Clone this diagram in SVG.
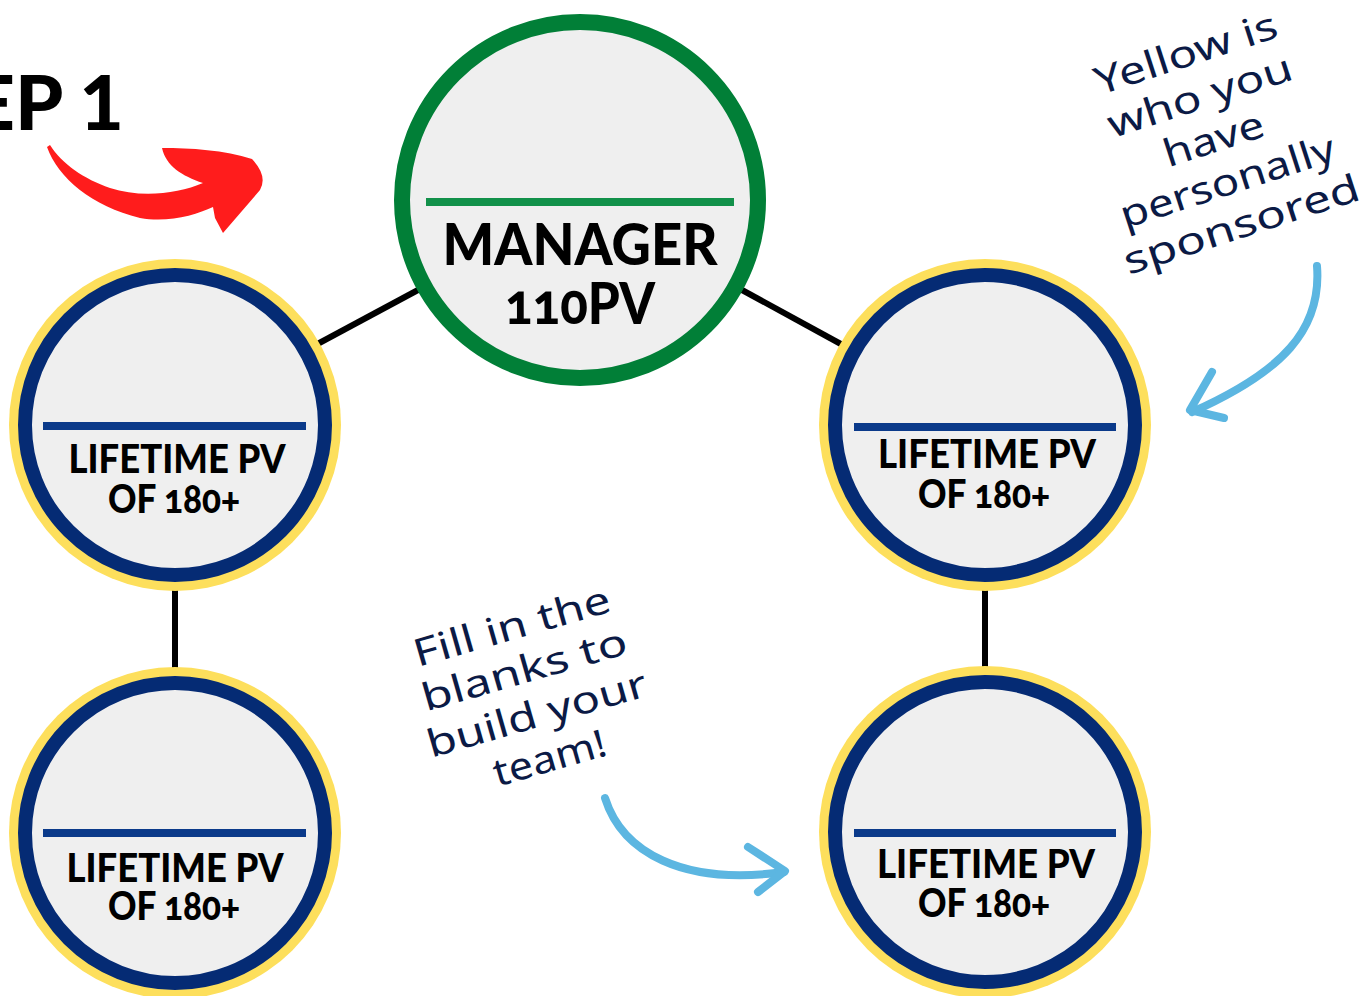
<svg xmlns="http://www.w3.org/2000/svg" width="1370" height="996" viewBox="0 0 1370 996">
<style>
.ring-y{fill:#fddf5c;}
.ring-b{fill:#efefef;stroke:#052b74;stroke-width:14;}
.bar-b{stroke:#0b3a8a;stroke-width:8;}
.lbl{font-family:Lato,"Open Sans","Liberation Sans",sans-serif;font-weight:900;fill:#000;text-anchor:middle;font-variant-numeric:oldstyle-nums;}
.conn{stroke:#000;stroke-width:6;fill:none;}
.hand{font-family:"Noto Sans","DejaVu Sans",sans-serif;font-weight:400;font-size:38px;fill:#0b1a45;text-anchor:middle;}
.blue-arrow{stroke:#5cb6e1;stroke-width:8;fill:none;stroke-linecap:round;stroke-linejoin:round;}
</style>
<rect width="1370" height="996" fill="#fff"/>

<g id="connectors">
<line class="conn" x1="310" y1="348" x2="418" y2="290"/>
<line class="conn" x1="742" y1="290" x2="850" y2="349"/>
<line class="conn" x1="175" y1="585" x2="175" y2="672"/>
<line class="conn" x1="985" y1="585" x2="985" y2="672"/>
</g>

<g id="step-title">
<text x="124" y="130" text-anchor="end" font-family="Lato,'Liberation Sans',sans-serif" font-weight="900" font-size="77" fill="#000">STEP 1</text>
<path d="M47,147 C58,178 92,206 140,218 C168,223 196,215 213,207 L215,218 L223,233 L260,190 Q268,176 252,159 C225,150 190,148 162,148 C166,166 182,176 203,183 C178,194 140,198 110,188 C84,179 62,164 50,145 Z" fill="#ff1c1c"/>
</g>

<g id="manager">
<circle cx="580" cy="200" r="178" fill="#efefef" stroke="#017f37" stroke-width="16"/>
<line x1="426" y1="202" x2="734" y2="202" stroke="#12914a" stroke-width="8"/>
<text class="lbl" x="580" y="265" font-size="57" textLength="275" lengthAdjust="spacingAndGlyphs">MANAGER</text>
<text class="lbl" x="580" y="324" font-size="57" textLength="150" lengthAdjust="spacingAndGlyphs">110PV</text>
</g>

<g id="node-top-left">
<circle class="ring-y" cx="175" cy="425" r="166"/>
<circle class="ring-b" cx="175" cy="425" r="150"/>
<line class="bar-b" x1="43" y1="426" x2="306" y2="426"/>
<text class="lbl" x="177" y="473" font-size="39" textLength="217" lengthAdjust="spacingAndGlyphs">LIFETIME PV</text>
<text class="lbl" x="174" y="513" font-size="39" textLength="132" lengthAdjust="spacingAndGlyphs">OF 180+</text>
</g>

<g id="node-bottom-left">
<circle class="ring-y" cx="175" cy="833" r="166"/>
<circle class="ring-b" cx="175" cy="833" r="150"/>
<line class="bar-b" x1="43" y1="833" x2="306" y2="833"/>
<text class="lbl" x="175" y="882" font-size="39" textLength="217" lengthAdjust="spacingAndGlyphs">LIFETIME PV</text>
<text class="lbl" x="174" y="920" font-size="39" textLength="132" lengthAdjust="spacingAndGlyphs">OF 180+</text>
</g>

<g id="node-top-right">
<circle class="ring-y" cx="985" cy="425" r="166"/>
<circle class="ring-b" cx="985" cy="425" r="150"/>
<line class="bar-b" x1="854" y1="427" x2="1116" y2="427"/>
<text class="lbl" x="987" y="468" font-size="39" textLength="218" lengthAdjust="spacingAndGlyphs">LIFETIME PV</text>
<text class="lbl" x="984" y="508" font-size="39" textLength="132" lengthAdjust="spacingAndGlyphs">OF 180+</text>
</g>

<g id="node-bottom-right">
<circle class="ring-y" cx="985" cy="832" r="166"/>
<circle class="ring-b" cx="985" cy="832" r="150"/>
<line class="bar-b" x1="854" y1="833" x2="1116" y2="833"/>
<text class="lbl" x="986" y="878" font-size="39" textLength="218" lengthAdjust="spacingAndGlyphs">LIFETIME PV</text>
<text class="lbl" x="984" y="917" font-size="39" textLength="132" lengthAdjust="spacingAndGlyphs">OF 180+</text>
</g>

<g id="note-yellow">
<g transform="translate(1214,140) rotate(-18)">
<text class="hand" x="0" y="-78" textLength="190" lengthAdjust="spacingAndGlyphs">Yellow is</text>
<text class="hand" x="0" y="-33" textLength="192" lengthAdjust="spacingAndGlyphs">who you</text>
<text class="hand" x="0" y="12" textLength="104" lengthAdjust="spacingAndGlyphs">have</text>
<text class="hand" x="0" y="57" textLength="224" lengthAdjust="spacingAndGlyphs">personally</text>
<text class="hand" x="0" y="102" textLength="246" lengthAdjust="spacingAndGlyphs">sponsored</text>
</g>
<path class="blue-arrow" d="M1317,266 C1322,330 1282,372 1192,412"/>
<path class="blue-arrow" d="M1212,372 L1190,410 L1224,418"/>
</g>

<g id="note-fill">
<g transform="translate(530,690) rotate(-16)">
<text class="hand" x="0" y="-53" textLength="203" lengthAdjust="spacingAndGlyphs">Fill in the</text>
<text class="hand" x="0" y="-8" textLength="212" lengthAdjust="spacingAndGlyphs">blanks to</text>
<text class="hand" x="0" y="38" textLength="227" lengthAdjust="spacingAndGlyphs">build your</text>
<text class="hand" x="0" y="84" textLength="116" lengthAdjust="spacingAndGlyphs">team!</text>
</g>
<path class="blue-arrow" d="M605,798 C622,852 682,886 784,872"/>
<path class="blue-arrow" d="M748,847 L785,871 L758,892"/>
</g>
</svg>
